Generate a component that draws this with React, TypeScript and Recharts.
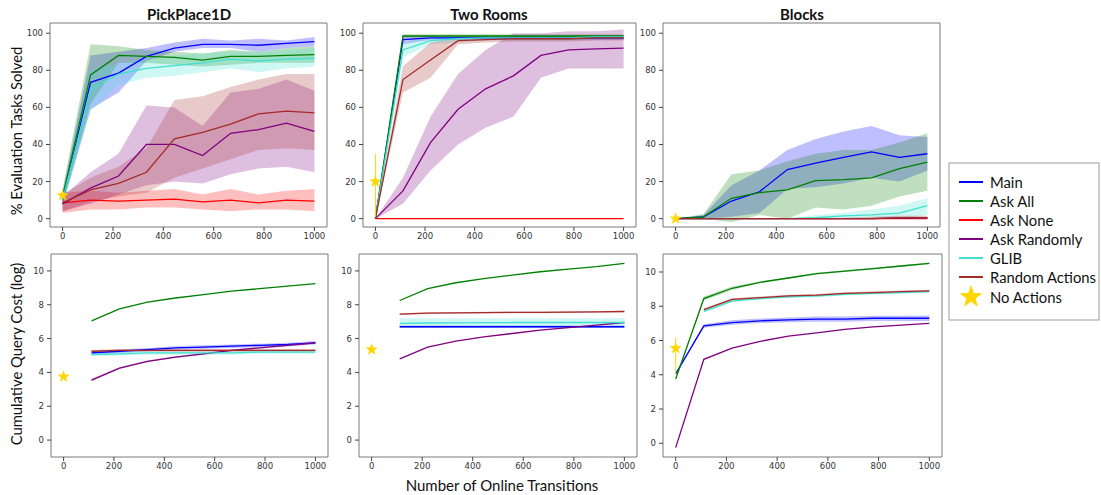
import {
  ComposedChart,
  Line,
  Area,
  Scatter,
  XAxis,
  YAxis,
  ReferenceArea,
  ErrorBar,
} from "recharts";

type Grid = (number | null)[][];
type Bands = ((number | null)[] | null)[];

const STEPS = [0, 111, 222, 333, 444, 556, 667, 778, 889, 1000];
const X_TICKS = [0, 200, 400, 600, 800, 1000];
const SOLVED_TICKS = [0, 20, 40, 60, 80, 100];
const COST_TICKS = [0, 2, 4, 6, 8, 10];

const METHODS = ["Main", "Ask All", "Ask None", "Ask Randomly", "GLIB", "Random Actions"];
const COLORS = ["#0000ff", "#008000", "#ff0000", "#800080", "#40e0d0", "#a52a2a"];
const PANEL_TITLES = ["PickPlace1D", "Two Rooms", "Blocks"];

// "No Actions" baseline, one star per panel at x = 0
const STAR_SOLVED = [12.5, 20, 0];
const STAR_SOLVED_ERR = [null, [19, 15], null];
const STAR_COST = [3.75, 5.35, 5.55];
const STAR_COST_ERR = [null, null, [1.5, 0.6]];

// --- PickPlace1D: % evaluation tasks solved (rows follow METHODS)
const PICK_SOLVED: Grid = [
  [10, 73.5, 78.5, 87.5, 92, 94, 94, 93.5, 94.5, 95.5],
  [12, 77.5, 88, 87.5, 87, 85.5, 87.5, 87.5, 88, 88.5],
  [8.5, 10, 9.5, 10, 10.5, 9, 10, 8.5, 10, 9.5],
  [8, 16.5, 23, 40, 40, 34, 46, 48, 51.5, 47],
  [10, 70, 78, 81, 82.5, 84, 86, 85, 86, 86.5],
  [8.5, 15.5, 19, 25, 43, 46.5, 51, 56.5, 58, 57],
];
const PICK_SOLVED_LO: Bands = [
  [7, 59, 68, 85, 90, 92, 92, 90, 92, 93],
  [8, 62, 84, 84, 83, 82, 83, 84, 84, 84],
  [3, 5, 5, 6, 6, 5, 4, 5, 5, 4],
  [4, 8, 13, 18, 20, 19, 24, 27, 28, 25],
  [7, 58, 72, 76, 77, 79, 81, 79, 81, 82],
  [4, 9, 12, 14, 22, 27, 32, 37, 38, 37],
];
const PICK_SOLVED_HI: Bands = [
  [14, 88, 90, 92, 95, 97, 96, 97, 96, 98],
  [16, 94, 93, 91, 90, 89, 91, 90, 92, 93],
  [14, 15, 14, 15, 16, 13, 16, 13, 15, 16],
  [12, 25, 35, 61, 60, 50, 68, 70, 75, 69],
  [14, 80, 84, 86, 88, 89, 90, 90, 91, 92],
  [13, 22, 28, 38, 64, 66, 71, 75, 78, 78],
];

// --- Two Rooms: % evaluation tasks solved
const ROOMS_SOLVED: Grid = [
  [0, 96.5, 97.5, 97.5, 97.5, 97.5, 97.5, 97.5, 97.5, 97.5],
  [0, 98.5, 98.5, 98.5, 98.5, 98.5, 98.5, 98.5, 98.5, 98.5],
  [0, 0, 0, 0, 0, 0, 0, 0, 0, 0],
  [0, 15, 41, 59, 70, 77, 88, 91, 91.5, 92],
  [0, 91, 96, 97, 97.5, 97.5, 97.5, 97.5, 98, 98],
  [0, 75, 85.5, 96, 96.5, 97, 97, 97, 97.5, 97.5],
];
const ROOMS_SOLVED_LO: Bands = [
  [0, 94, 96.5, 96.5, 96.5, 96.5, 96.5, 96.5, 96.5, 96.5],
  [0, 97.5, 97.5, 97.5, 97.5, 97.5, 97.5, 97.5, 97.5, 97.5],
  null,
  [0, 8, 26, 40, 49, 55, 76, 81, 81, 81],
  [0, 87, 94, 95, 96, 96, 96, 96, 96.5, 96.5],
  [0, 68, 76, 94, 95, 95.5, 95.5, 95.5, 96, 96],
];
const ROOMS_SOLVED_HI: Bands = [
  [0, 98.5, 98.5, 98.5, 98.5, 98.5, 98.5, 98.5, 98.5, 98.5],
  [0, 99.5, 99.5, 99.5, 99.5, 99.5, 99.5, 99.5, 99.5, 99.5],
  null,
  [0, 22, 55, 78, 91, 100, 100, 101, 101, 102],
  [0, 95, 98, 98.5, 99, 99, 99, 99, 99, 99],
  [0, 82, 95, 98, 98.5, 98.5, 98.5, 98.5, 99, 99],
];

// --- Blocks: % evaluation tasks solved
const BLOCKS_SOLVED: Grid = [
  [0, 1, 9.5, 14.5, 26.5, 30, 33, 36, 33, 35],
  [0, 1, 11, 14, 15.5, 20.5, 21, 22, 27, 30.5],
  [0, 0, 0, 0, 0, 0, 0, 0, 0, 0],
  [0, 0, 0, 0, 0, 0, 0, 0, 0.3, 0.3],
  [0, 0, 0, 0, 0, 0.5, 1.5, 2, 3, 7],
  [0, 0, 0, 0, 0, 0, 0, 0, 0.5, 0.5],
];
const BLOCKS_SOLVED_LO: Bands = [
  [0, 0, 1, 3, 16, 17, 19, 22, 20, 26],
  [0, 0, -2, 2, 0, 6, 5, 7, 12, 15],
  null,
  [0, 0, 0, 0, 0, 0, 0, 0, 0, 0],
  [0, 0, 0, 0, 0, 0, 0, 0, 0, 2],
  [0, 0, 0, 0, 0, 0, 0, 0, 0, 0],
];
const BLOCKS_SOLVED_HI: Bands = [
  [0, 2, 18, 26, 37, 43, 47, 50, 45, 44],
  [0, 2.5, 24, 26, 31, 35, 37, 37, 41, 46],
  null,
  [0, 0, 0, 0, 0, 0, 0, 0.5, 1, 1],
  [0, 0, 0, 0, 0, 2, 3, 5, 7, 11],
  [0, 0, 0, 0, 0, 0, 0.5, 1, 1.5, 1.5],
];

// --- PickPlace1D: cumulative query cost (log); Ask None has no cost
const PICK_COST: Grid = [
  [null, 5.15, 5.25, 5.35, 5.45, 5.5, 5.55, 5.6, 5.65, 5.75],
  [null, 7.05, 7.75, 8.15, 8.4, 8.6, 8.8, 8.95, 9.1, 9.25],
  [null, null, null, null, null, null, null, null, null, null],
  [null, 3.55, 4.25, 4.65, 4.9, 5.1, 5.3, 5.45, 5.6, 5.75],
  [null, 5.05, 5.1, 5.15, 5.15, 5.15, 5.15, 5.2, 5.2, 5.2],
  [null, 5.25, 5.3, 5.3, 5.3, 5.3, 5.3, 5.3, 5.3, 5.3],
];
const PICK_COST_LO: Bands = [
  [null, 5.05, 5.15, 5.25, 5.35, 5.4, 5.45, 5.5, 5.55, 5.65],
  null,
  null,
  [null, 3.48, 4.2, 4.6, 4.85, 5.05, 5.25, 5.4, 5.55, 5.7],
  [null, 4.95, 5.0, 5.05, 5.05, 5.05, 5.05, 5.1, 5.1, 5.1],
  [null, 5.17, 5.22, 5.22, 5.22, 5.22, 5.22, 5.22, 5.22, 5.22],
];
const PICK_COST_HI: Bands = [
  [null, 5.25, 5.35, 5.45, 5.55, 5.6, 5.65, 5.7, 5.75, 5.85],
  null,
  null,
  [null, 3.62, 4.3, 4.7, 4.95, 5.15, 5.35, 5.5, 5.65, 5.8],
  [null, 5.15, 5.2, 5.25, 5.25, 5.25, 5.25, 5.3, 5.3, 5.3],
  [null, 5.33, 5.38, 5.38, 5.38, 5.38, 5.38, 5.38, 5.38, 5.38],
];

// --- Two Rooms: cumulative query cost (log)
const ROOMS_COST: Grid = [
  [null, 6.7, 6.7, 6.7, 6.7, 6.7, 6.7, 6.7, 6.7, 6.7],
  [null, 8.25, 8.95, 9.3, 9.55, 9.75, 9.95, 10.1, 10.25, 10.45],
  [null, null, null, null, null, null, null, null, null, null],
  [null, 4.8, 5.5, 5.85, 6.1, 6.3, 6.5, 6.65, 6.8, 6.95],
  [null, 6.9, 6.92, 6.93, 6.94, 6.95, 6.95, 6.95, 6.95, 6.95],
  [null, 7.45, 7.5, 7.52, 7.53, 7.55, 7.55, 7.56, 7.58, 7.6],
];
const ROOMS_COST_LO: Bands = [
  [null, 6.62, 6.62, 6.62, 6.62, 6.62, 6.62, 6.62, 6.62, 6.62],
  null,
  null,
  null,
  [null, 6.65, 6.65, 6.65, 6.65, 6.65, 6.65, 6.65, 6.65, 6.65],
  [null, 7.4, 7.45, 7.47, 7.48, 7.5, 7.5, 7.51, 7.53, 7.55],
];
const ROOMS_COST_HI: Bands = [
  [null, 6.78, 6.78, 6.78, 6.78, 6.78, 6.78, 6.78, 6.78, 6.78],
  null,
  null,
  null,
  [null, 7.2, 7.2, 7.2, 7.2, 7.2, 7.2, 7.2, 7.2, 7.2],
  [null, 7.5, 7.55, 7.57, 7.58, 7.6, 7.6, 7.61, 7.63, 7.65],
];

// --- Blocks: cumulative query cost (log)
const BLOCKS_COST: Grid = [
  [4.05, 6.85, 7.05, 7.15, 7.2, 7.25, 7.25, 7.3, 7.3, 7.3],
  [3.75, 8.45, 9.05, 9.4, 9.65, 9.9, 10.05, 10.2, 10.35, 10.5],
  [null, null, null, null, null, null, null, null, null, null],
  [-0.25, 4.9, 5.55, 5.95, 6.25, 6.45, 6.65, 6.8, 6.9, 7.0],
  [null, 7.7, 8.3, 8.45, 8.55, 8.6, 8.7, 8.75, 8.8, 8.85],
  [null, 7.8, 8.4, 8.5, 8.6, 8.65, 8.75, 8.8, 8.85, 8.9],
];
const BLOCKS_COST_LO: Bands = [
  [4.0, 6.75, 6.92, 7.02, 7.06, 7.1, 7.1, 7.14, 7.14, 7.14],
  [3.75, 8.33, 8.95, 9.35, 9.6, 9.85, 10.0, 10.15, 10.3, 10.45],
  null,
  null,
  [null, 7.63, 8.23, 8.38, 8.48, 8.53, 8.63, 8.68, 8.73, 8.78],
  [null, 7.73, 8.33, 8.43, 8.53, 8.58, 8.68, 8.73, 8.78, 8.83],
];
const BLOCKS_COST_HI: Bands = [
  [4.1, 6.95, 7.18, 7.28, 7.34, 7.4, 7.4, 7.45, 7.45, 7.46],
  [3.75, 8.57, 9.15, 9.45, 9.7, 9.95, 10.1, 10.25, 10.4, 10.55],
  null,
  null,
  [null, 7.77, 8.37, 8.52, 8.62, 8.67, 8.77, 8.82, 8.87, 8.92],
  [null, 7.87, 8.47, 8.57, 8.67, 8.72, 8.82, 8.87, 8.92, 8.97],
];

const TICK_FONT = { fontSize: 8.5, fill: "#333", fontFamily: "DejaVu Sans" };
const LABEL_FONT = "Lato, 'Open Sans', sans-serif";
const Y_AXIS_W = 36;
const X_AXIS_H = 20;

function buildRows(mean: Grid, lo: Bands, hi: Bands) {
  return STEPS.map((x, i) => {
    const row: Record<string, unknown> = { x };
    mean.forEach((series, k) => {
      row[`m${k}`] = series[i];
      const l = lo[k]?.[i];
      const h = hi[k]?.[i];
      row[`b${k}`] = l != null && h != null ? [l, h] : null;
    });
    return row;
  });
}

function starPoints(cx: number, cy: number, r: number): string {
  const pts: string[] = [];
  for (let i = 0; i < 10; i++) {
    const rad = i % 2 === 0 ? r : r * 0.4;
    const a = -Math.PI / 2 + (i * Math.PI) / 5;
    pts.push(`${cx + rad * Math.cos(a)},${cy + rad * Math.sin(a)}`);
  }
  return pts.join(" ");
}

interface PanelProps {
  left: number;
  top: number;
  w: number;
  h: number;
  domain: [number, number];
  ticks: number[];
  mean: Grid;
  lo: Bands;
  hi: Bands;
  star: number;
  starErr: number[] | null;
}

function Panel({ left, top, w, h, domain, ticks, mean, lo, hi, star, starErr }: PanelProps) {
  const rows = buildRows(mean, lo, hi);
  const starData = [{ x: 0, y: star, err: starErr }];
  const present = mean.map((s) => s.some((v) => v != null));

  return (
    <div style={{ position: "absolute", left: left - Y_AXIS_W, top: top - 2 }}>
      <ComposedChart
        width={Y_AXIS_W + w + 4}
        height={h + 2 + X_AXIS_H}
        data={rows}
        margin={{ top: 2, right: 4, bottom: 0, left: 0 }}
      >
        <XAxis
          dataKey="x"
          type="number"
          domain={[-50, 1050]}
          ticks={X_TICKS}
          interval={0}
          allowDataOverflow
          axisLine={false}
          tickLine={{ stroke: "#444" }}
          tickSize={4}
          tickMargin={2}
          height={X_AXIS_H}
          tick={TICK_FONT}
        />
        <YAxis
          type="number"
          domain={domain}
          ticks={ticks}
          interval={0}
          allowDataOverflow
          axisLine={false}
          tickLine={{ stroke: "#444" }}
          tickSize={4}
          tickMargin={3}
          width={Y_AXIS_W}
          tick={TICK_FONT}
        />
        {mean.map((_, k) =>
          lo[k] && hi[k] ? (
            <Area
              key={`band-${k}`}
              dataKey={`b${k}`}
              type="linear"
              stroke="none"
              fill={COLORS[k]}
              fillOpacity={0.25}
              activeDot={false}
              isAnimationActive={false}
            />
          ) : null,
        )}
        {mean.map((_, k) =>
          present[k] ? (
            <Line
              key={`line-${k}`}
              dataKey={`m${k}`}
              type="linear"
              stroke={COLORS[k]}
              strokeWidth={1.3}
              dot={false}
              activeDot={false}
              isAnimationActive={false}
            />
          ) : null,
        )}
        <ReferenceArea
          x1={-50}
          x2={1050}
          y1={domain[0]}
          y2={domain[1]}
          fill="none"
          stroke="#7a7a7a"
          strokeWidth={1}
          ifOverflow="visible"
        />
        <Scatter
          data={starData}
          dataKey="y"
          isAnimationActive={false}
          shape={(p: { cx?: number; cy?: number }) => (
            <polygon points={starPoints(p.cx ?? 0, p.cy ?? 0, 6.5)} fill="#ffd700" />
          )}
        >
          {starErr ? (
            <ErrorBar dataKey="err" direction="y" width={0} stroke="#ffd700" strokeWidth={1} />
          ) : null}
        </Scatter>
      </ComposedChart>
    </div>
  );
}

function Legend() {
  const rowY = [20, 39, 58, 77, 96, 115, 135];
  return (
    <svg
      width={152}
      height={159}
      style={{ position: "absolute", left: 948, top: 162 }}
    >
      <rect x={1} y={1} width={150} height={157} fill="#fff" stroke="#9a9a9a" strokeWidth={1} />
      {METHODS.map((m, k) => (
        <g key={m}>
          <line x1={11} x2={35} y1={rowY[k]} y2={rowY[k]} stroke={COLORS[k]} strokeWidth={2} />
          <text
            x={42}
            y={rowY[k]}
            dominantBaseline="central"
            fontFamily={LABEL_FONT}
            fontSize={14.8}
            fill="#111"
          >
            {m}
          </text>
        </g>
      ))}
      <polygon points={starPoints(23, rowY[6], 12)} fill="#ffd700" />
      <text
        x={42}
        y={rowY[6]}
        dominantBaseline="central"
        fontFamily={LABEL_FONT}
        fontSize={14.8}
        fill="#111"
      >
        No Actions
      </text>
    </svg>
  );
}

export default function App() {
  const titleX = [189, 489, 802];
  return (
    <div
      style={{
        position: "absolute",
        left: 0,
        top: 0,
        width: 1101,
        height: 495,
        background: "#fff",
        overflow: "hidden",
      }}
    >
      <svg width={1101} height={495} style={{ position: "absolute", left: 0, top: 0 }}>
        {PANEL_TITLES.map((t, i) => (
          <text
            key={t}
            x={titleX[i]}
            y={14}
            textAnchor="middle"
            dominantBaseline="central"
            fontFamily={LABEL_FONT}
            fontWeight={700}
            fontSize={15}
            fill="#111"
          >
            {t}
          </text>
        ))}
        <text
          transform="translate(16,131) rotate(-90)"
          textAnchor="middle"
          dominantBaseline="central"
          fontFamily={LABEL_FONT}
          fontSize={14.8}
          fill="#111"
        >
          % Evaluation Tasks Solved
        </text>
        <text
          transform="translate(16,354) rotate(-90)"
          textAnchor="middle"
          dominantBaseline="central"
          fontFamily={LABEL_FONT}
          fontSize={14.8}
          fill="#111"
        >
          Cumulative Query Cost (log)
        </text>
        <text
          x={502}
          y={485}
          textAnchor="middle"
          dominantBaseline="central"
          fontFamily={LABEL_FONT}
          fontSize={15}
          fill="#111"
        >
          Number of Online Transitions
        </text>
      </svg>

      <Panel left={50} top={23} w={277} h={204} domain={[-4.5, 105.5]} ticks={SOLVED_TICKS}
        mean={PICK_SOLVED} lo={PICK_SOLVED_LO} hi={PICK_SOLVED_HI}
        star={STAR_SOLVED[0]} starErr={STAR_SOLVED_ERR[0]} />
      <Panel left={363} top={23} w={273} h={204} domain={[-4.5, 105.5]} ticks={SOLVED_TICKS}
        mean={ROOMS_SOLVED} lo={ROOMS_SOLVED_LO} hi={ROOMS_SOLVED_HI}
        star={STAR_SOLVED[1]} starErr={STAR_SOLVED_ERR[1]} />
      <Panel left={663} top={23} w={277} h={204} domain={[-4.5, 105.5]} ticks={SOLVED_TICKS}
        mean={BLOCKS_SOLVED} lo={BLOCKS_SOLVED_LO} hi={BLOCKS_SOLVED_HI}
        star={STAR_SOLVED[2]} starErr={STAR_SOLVED_ERR[2]} />

      <Panel left={51} top={254} w={277} h={203} domain={[-1, 11]} ticks={COST_TICKS}
        mean={PICK_COST} lo={PICK_COST_LO} hi={PICK_COST_HI}
        star={STAR_COST[0]} starErr={STAR_COST_ERR[0]} />
      <Panel left={359} top={254} w={278} h={203} domain={[-1, 11]} ticks={COST_TICKS}
        mean={ROOMS_COST} lo={ROOMS_COST_LO} hi={ROOMS_COST_HI}
        star={STAR_COST[1]} starErr={STAR_COST_ERR[1]} />
      <Panel left={663} top={254} w={279} h={203} domain={[-0.8, 11.05]} ticks={COST_TICKS}
        mean={BLOCKS_COST} lo={BLOCKS_COST_LO} hi={BLOCKS_COST_HI}
        star={STAR_COST[2]} starErr={STAR_COST_ERR[2]} />

      <Legend />
    </div>
  );
}
